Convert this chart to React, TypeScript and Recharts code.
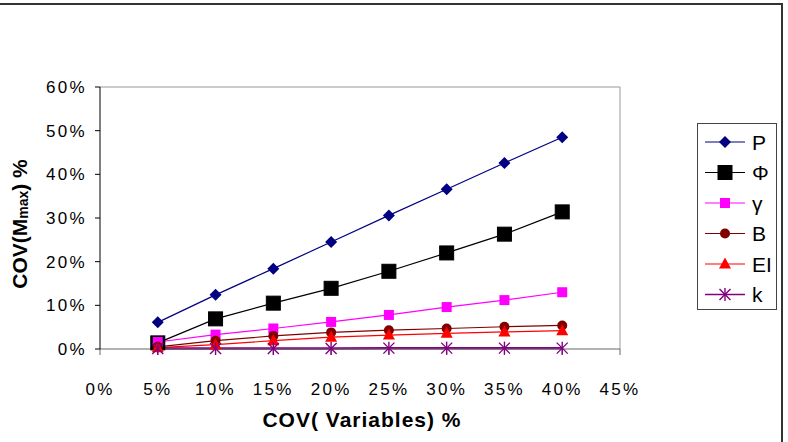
import {
  LineChart,
  Line,
  XAxis,
  YAxis,
  ReferenceLine,
} from 'recharts'

const xValues = [5, 10, 15, 20, 25, 30, 35, 40]
const pValues = [6.1, 12.4, 18.4, 24.5, 30.6, 36.6, 42.6, 48.5]
const phiValues = [1.4, 6.9, 10.5, 13.9, 17.8, 22.0, 26.3, 31.4]
const gammaValues = [1.6, 3.3, 4.7, 6.2, 7.8, 9.6, 11.2, 13.0]
const bValues = [0.5, 1.9, 3.0, 3.8, 4.3, 4.7, 5.1, 5.4]
const eiValues = [0.3, 1.0, 1.9, 2.7, 3.2, 3.6, 3.9, 4.2]
const kValues = [0.1, 0.1, 0.1, 0.1, 0.2, 0.2, 0.2, 0.2]
const xTicks = [0, 5, 10, 15, 20, 25, 30, 35, 40, 45]
const yTicks = [0, 10, 20, 30, 40, 50, 60]

const FONT = '"Liberation Sans", Arial, sans-serif'

type Shape = 'diamond' | 'bigSquare' | 'square' | 'circle' | 'triangle' | 'star'

const SERIES: { key: string; name: string; color: string; shape: Shape; width: number }[] = [
  { key: 'P', name: 'P', color: '#000080', shape: 'diamond', width: 1.2 },
  { key: 'Phi', name: 'Φ', color: '#000000', shape: 'bigSquare', width: 1.2 },
  { key: 'gamma', name: 'γ', color: '#ff00ff', shape: 'square', width: 1.2 },
  { key: 'B', name: 'B', color: '#800000', shape: 'circle', width: 1.2 },
  { key: 'EI', name: 'EI', color: '#ff0000', shape: 'triangle', width: 1.2 },
  { key: 'k', name: 'k', color: '#800080', shape: 'star', width: 2.5 },
]

const data = xValues.map((x, i) => ({
  x,
  P: pValues[i],
  Phi: phiValues[i],
  gamma: gammaValues[i],
  B: bValues[i],
  EI: eiValues[i],
  k: kValues[i],
}))

function Marker({ cx, cy, shape, color }: { cx: number; cy: number; shape: Shape; color: string }) {
  switch (shape) {
    case 'diamond':
      return <path d={`M${cx},${cy - 6} L${cx + 6},${cy} L${cx},${cy + 6} L${cx - 6},${cy} Z`} fill={color} />
    case 'bigSquare':
      return <rect x={cx - 7} y={cy - 7} width={14} height={14} fill={color} stroke="#000" />
    case 'square':
      return <rect x={cx - 5} y={cy - 5} width={10} height={10} fill={color} />
    case 'circle':
      return <circle cx={cx} cy={cy} r={5} fill={color} />
    case 'triangle':
      return <path d={`M${cx},${cy - 6.5} L${cx + 6},${cy + 4.5} L${cx - 6},${cy + 4.5} Z`} fill={color} />
    case 'star':
      return (
        <g stroke={color} strokeWidth={1.4}>
          <line x1={cx - 5.5} y1={cy - 5.5} x2={cx + 5.5} y2={cy + 5.5} />
          <line x1={cx - 5.5} y1={cy + 5.5} x2={cx + 5.5} y2={cy - 5.5} />
          <line x1={cx} y1={cy - 6.5} x2={cx} y2={cy + 6.5} />
        </g>
      )
  }
}

function LegendBox() {
  return (
    <div
      style={{
        position: 'absolute',
        left: 697,
        top: 123,
        width: 80,
        height: 187,
        border: '1px solid #444',
        background: '#fff',
        boxSizing: 'border-box',
      }}
    >
      <svg width={78} height={185} style={{ display: 'block' }}>
        {SERIES.map((s, i) => {
          const y = 18 + i * 30.5
          return (
            <g key={s.key}>
              <line x1={7} x2={47} y1={y} y2={y} stroke={s.color} strokeWidth={s.shape === 'star' ? 1.5 : 1.2} />
              <Marker cx={27} cy={y} shape={s.shape} color={s.color} />
              <text x={54} y={y + 7.5} fontSize={21} fontFamily={FONT} fill="#000">
                {s.name}
              </text>
            </g>
          )
        })}
      </svg>
    </div>
  )
}

const YTitle = () => (
  <text
    x={19}
    y={224}
    transform="rotate(-90, 19, 224)"
    textAnchor="middle"
    dominantBaseline="central"
    fontFamily={FONT}
    fontWeight="bold"
    fontSize={21}
    fill="#000"
  >
    COV(M
    <tspan fontSize={14} dy={4}>max</tspan>
    <tspan dy={-4}>) %</tspan>
  </text>
)

const XTitle = () => (
  <text
    x={362}
    y={427}
    textAnchor="middle"
    fontFamily={FONT}
    fontWeight="bold"
    fontSize={21}
    letterSpacing={1}
    fill="#000"
  >
    COV( Variables) %
  </text>
)

export default function App() {
  return (
    <div style={{ position: 'absolute', left: 0, top: 0, width: 788, height: 442, background: '#fff', overflow: 'hidden' }}>
      <LineChart
        width={788}
        height={442}
        data={data}
        margin={{ top: 87, right: 168, bottom: 63, left: 30 }}
        style={{ fontFamily: FONT }}
      >
        <ReferenceLine y={60} stroke="#999" strokeWidth={1} />
        <ReferenceLine x={45} stroke="#999" strokeWidth={1} />
        <XAxis
          dataKey="x"
          type="number"
          domain={[0, 45]}
          ticks={xTicks}
          tickFormatter={(v: number) => `${v}%`}
          stroke="#666"
          height={30}
          tickSize={6}
          tickMargin={28}
          tick={{ fontSize: 17, fill: '#000', letterSpacing: 2.3 }}
          interval={0}
          allowDataOverflow
        />
        <YAxis
          type="number"
          domain={[0, 60]}
          ticks={yTicks}
          width={70}
          tickFormatter={(v: number) => `${v}%`}
          stroke="#000"
          tickSize={5}
          tickMargin={8}
          tick={{ fontSize: 17, fill: '#000', letterSpacing: 2.3 }}
          interval={0}
        />
        {SERIES.map((s) => (
          <Line
            key={s.key}
            dataKey={s.key}
            name={s.name}
            stroke={s.color}
            strokeWidth={s.width}
            isAnimationActive={false}
            dot={(props: any) => (
              <Marker key={`${s.key}-${props.index}`} cx={props.cx} cy={props.cy} shape={s.shape} color={s.color} />
            )}
            activeDot={false}
          />
        ))}
        <YTitle />
        <XTitle />
      </LineChart>
      <LegendBox />
      <div style={{ position: 'absolute', left: 0, top: 3, width: 783, height: 2, background: '#333' }} />
      <div style={{ position: 'absolute', left: 781, top: 3, width: 2, height: 439, background: '#333' }} />
    </div>
  )
}
